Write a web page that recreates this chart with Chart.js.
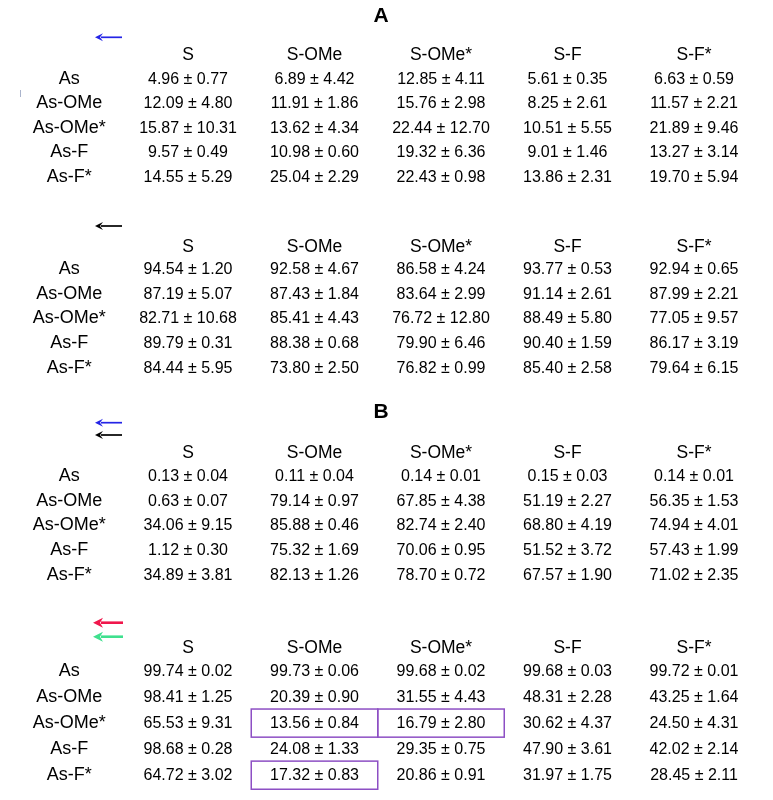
<!DOCTYPE html>
<html>
<head>
<meta charset="utf-8">
<script src="https://cdn.jsdelivr.net/npm/chart.js@4.4.1/dist/chart.umd.min.js"></script>
<style>
  html, body { margin: 0; padding: 0; background: #fff; }
  #wrap { position: relative; width: 773px; height: 800px; overflow: hidden; }
  #wrap canvas { position: absolute; left: 0; }
</style>
</head>
<body>
<div id="wrap">
  <canvas id="a1"></canvas>
  <canvas id="a2"></canvas>
  <canvas id="b1"></canvas>
  <canvas id="b2"></canvas>
</div>
<script>
const colLabels = ["S", "S-OMe", "S-OMe*", "S-F", "S-F*"]
const rowLabels = ["As", "As-OMe", "As-OMe*", "As-F", "As-F*"]

// panel A, blue arrow
const meanA1 = [
  [4.96, 6.89, 12.85, 5.61, 6.63],
  [12.09, 11.91, 15.76, 8.25, 11.57],
  [15.87, 13.62, 22.44, 10.51, 21.89],
  [9.57, 10.98, 19.32, 9.01, 13.27],
  [14.55, 25.04, 22.43, 13.86, 19.70],
]
const sdA1 = [
  [0.77, 4.42, 4.11, 0.35, 0.59],
  [4.80, 1.86, 2.98, 2.61, 2.21],
  [10.31, 4.34, 12.70, 5.55, 9.46],
  [0.49, 0.60, 6.36, 1.46, 3.14],
  [5.29, 2.29, 0.98, 2.31, 5.94],
]

// panel A, black arrow
const meanA2 = [
  [94.54, 92.58, 86.58, 93.77, 92.94],
  [87.19, 87.43, 83.64, 91.14, 87.99],
  [82.71, 85.41, 76.72, 88.49, 77.05],
  [89.79, 88.38, 79.90, 90.40, 86.17],
  [84.44, 73.80, 76.82, 85.40, 79.64],
]
const sdA2 = [
  [1.20, 4.67, 4.24, 0.53, 0.65],
  [5.07, 1.84, 2.99, 2.61, 2.21],
  [10.68, 4.43, 12.80, 5.80, 9.57],
  [0.31, 0.68, 6.46, 1.59, 3.19],
  [5.95, 2.50, 0.99, 2.58, 6.15],
]

// panel B, blue + black arrows
const meanB1 = [
  [0.13, 0.11, 0.14, 0.15, 0.14],
  [0.63, 79.14, 67.85, 51.19, 56.35],
  [34.06, 85.88, 82.74, 68.80, 74.94],
  [1.12, 75.32, 70.06, 51.52, 57.43],
  [34.89, 82.13, 78.70, 67.57, 71.02],
]
const sdB1 = [
  [0.04, 0.04, 0.01, 0.03, 0.01],
  [0.07, 0.97, 4.38, 2.27, 1.53],
  [9.15, 0.46, 2.40, 4.19, 4.01],
  [0.30, 1.69, 0.95, 3.72, 1.99],
  [3.81, 1.26, 0.72, 1.90, 2.35],
]

// panel B, red + green arrows
const meanB2 = [
  [99.74, 99.73, 99.68, 99.68, 99.72],
  [98.41, 20.39, 31.55, 48.31, 43.25],
  [65.53, 13.56, 16.79, 30.62, 24.50],
  [98.68, 24.08, 29.35, 47.90, 42.02],
  [64.72, 17.32, 20.86, 31.97, 28.45],
]
const sdB2 = [
  [0.02, 0.06, 0.02, 0.03, 0.01],
  [1.25, 0.90, 4.43, 2.28, 1.64],
  [9.31, 0.84, 2.80, 4.37, 4.31],
  [0.28, 1.33, 0.75, 3.61, 2.14],
  [3.02, 0.83, 0.91, 1.75, 2.11],
]

// highlighted cells in the last table [row, column]
const boxedB2 = [["As-OMe*", "S-OMe"], ["As-OMe*", "S-OMe*"], ["As-F*", "S-OMe"]]

const FONT = "'Liberation Sans', Arial, sans-serif"
const W = 762
const SIDE = 4.75 // same padding left and right keeps the panel letter centred
const ROW_FONT = 18
const ROW_PAD = 19

const cellText = {
  id: "cellText",
  afterDatasetsDraw(chart, args, opts) {
    const ctx = chart.ctx
    const xs = chart.scales.x
    const ys = chart.scales.y
    const colW = xs.getPixelForValue(1) - xs.getPixelForValue(0)
    const rowH = ys.getPixelForValue(1) - ys.getPixelForValue(0)
    const ds = chart.data.datasets[0]
    ctx.save()

    const boxes = opts.boxes || []
    ctx.strokeStyle = "#8d4fc4"
    ctx.lineWidth = 1.5
    boxes.forEach(([r, c]) => {
      const x = xs.getPixelForValue(colLabels.indexOf(c))
      const y = ys.getPixelForValue(rowLabels.indexOf(r))
      ctx.strokeRect(x - colW / 2, y - rowH * 0.54, colW, rowH * 1.08)
    })

    ctx.font = "16px " + FONT
    ctx.fillStyle = "#000"
    ctx.textAlign = "center"
    ctx.textBaseline = "middle"
    chart.getDatasetMeta(0).data.forEach((pt, i) => {
      const d = ds.data[i]
      ctx.fillText(d.mean.toFixed(2) + " \u00b1 " + d.sd.toFixed(2), pt.x, pt.y + 0.5)
    })

    // little arrows at the top left of each table
    const arrows = opts.arrows || []
    arrows.forEach(a => {
      const y = a.y - opts.top
      const head = a.big ? 10 : 8
      const half = a.big ? 5 : 4
      ctx.strokeStyle = a.color
      ctx.fillStyle = a.color
      ctx.lineWidth = a.big ? 2.6 : 1.7
      ctx.beginPath()
      ctx.moveTo(a.x1, y)
      ctx.lineTo(a.x0 + head - 2, y)
      ctx.stroke()
      ctx.beginPath()
      ctx.moveTo(a.x0, y)
      ctx.lineTo(a.x0 + head, y - half)
      ctx.lineTo(a.x0 + head - 3, y)
      ctx.lineTo(a.x0 + head, y + half)
      ctx.closePath()
      ctx.fill()
    })

    if (opts.stray) {
      ctx.strokeStyle = "#aab4cc"
      ctx.lineWidth = 1
      ctx.beginPath()
      ctx.moveTo(20.5, opts.stray[0] - opts.top)
      ctx.lineTo(20.5, opts.stray[1] - opts.top)
      ctx.stroke()
    }
    ctx.restore()
  }
}

function makeTable(id, mean, sd, spec) {
  const canvas = document.getElementById(id)
  const chartTop = spec.row0 - spec.gap / 2
  const chartBottom = spec.row0 + spec.gap * 4.5
  // the y axis keeps half a label plus its padding free below the chart area
  const belowPad = ROW_FONT * 1.2 / 2 + ROW_PAD
  canvas.width = W
  canvas.height = Math.round(chartBottom - spec.top + belowPad)
  canvas.style.top = spec.top + "px"
  const titleH = spec.title ? 21 * 1.2 + spec.titlePad : 0

  const points = []
  rowLabels.forEach((r, i) => {
    colLabels.forEach((c, j) => {
      points.push({ x: c, y: r, mean: mean[i][j], sd: sd[i][j] })
    })
  })

  return new Chart(canvas, {
    type: "scatter",
    data: { datasets: [{ data: points, pointRadius: 0, pointHoverRadius: 0 }] },
    options: {
      responsive: false,
      animation: false,
      events: [],
      layout: { padding: { left: SIDE, right: SIDE, top: 0, bottom: 0 } },
      plugins: {
        legend: { display: false },
        tooltip: { enabled: false },
        title: {
          display: !!spec.title,
          text: spec.title || "",
          color: "#000",
          font: { family: FONT, size: 21, weight: "bold" },
          padding: { top: spec.titlePad || 0, bottom: 0 },
        },
        cellText: { boxes: spec.boxes, arrows: spec.arrows, top: spec.top, stray: spec.stray },
      },
      scales: {
        x: {
          type: "category",
          labels: colLabels,
          position: "top",
          offset: true,
          grid: { display: false, drawTicks: false },
          border: { display: false },
          ticks: { color: "#000", font: { family: FONT, size: 17.5 }, padding: chartTop - spec.header - 11.5, maxRotation: 0, autoSkip: false },
          afterFit: (s) => { s.height = chartTop - spec.top - titleH },
        },
        y: {
          type: "category",
          labels: rowLabels,
          offset: true,
          grid: { display: false, drawTicks: false },
          border: { display: false },
          ticks: { color: "#000", font: { family: FONT, size: ROW_FONT }, crossAlign: "center", padding: ROW_PAD, autoSkip: false },
          afterFit: (s) => { s.width = 124.75 - SIDE },
        },
      },
    },
    plugins: [cellText],
  })
}

makeTable("a1", meanA1, sdA1, {
  top: 0, title: "A", titlePad: 3.4, header: 54, row0: 78.7, gap: 24.6,
  arrows: [{ x0: 95, x1: 122, y: 37.3, color: "#2424e6" }],
  stray: [90, 97],
})
makeTable("a2", meanA2, sdA2, {
  top: 212, header: 246, row0: 269, gap: 24.75,
  arrows: [{ x0: 95, x1: 122, y: 226, color: "#000" }],
})
makeTable("b1", meanB1, sdB1, {
  top: 395, title: "B", titlePad: 4.4, header: 452.5, row0: 476, gap: 24.75,
  arrows: [{ x0: 95, x1: 122, y: 422.7, color: "#2424e6" }, { x0: 95, x1: 122, y: 435, color: "#000" }],
})
makeTable("b2", meanB2, sdB2, {
  top: 605, header: 647.5, row0: 671, gap: 26,
  boxes: boxedB2,
  arrows: [{ x0: 93, x1: 123, y: 622.7, color: "#f0174c", big: true }, { x0: 93, x1: 123, y: 636.7, color: "#3fe08e", big: true }],
})
</script>
</body>
</html>
